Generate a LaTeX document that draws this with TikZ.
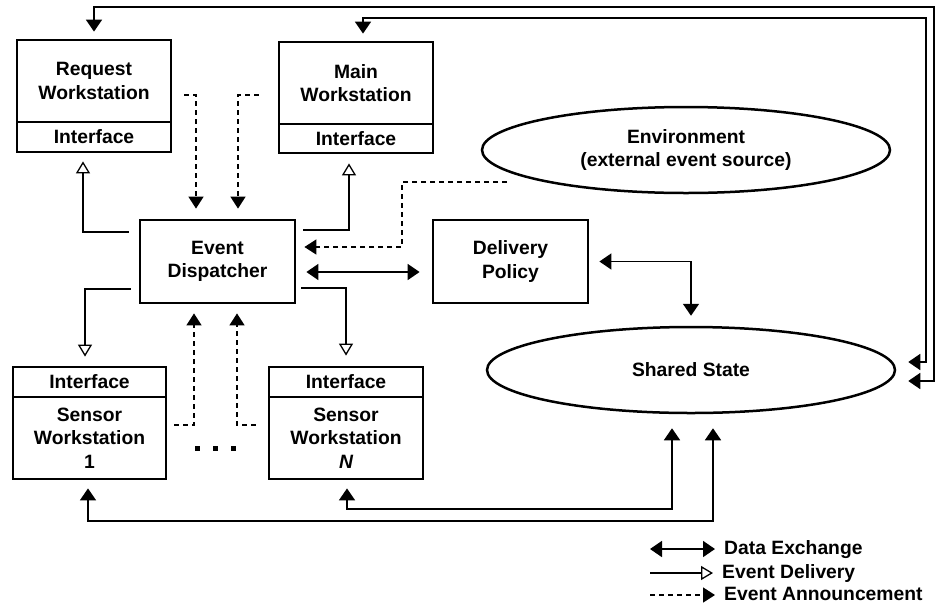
\documentclass[tikz,border=0pt]{standalone}
\usepackage{fontspec}
\setmainfont{Liberation Sans}
\usetikzlibrary{arrows.meta,shapes.geometric}
\begin{document}
\begin{tikzpicture}[x=1pt,y=-1pt,
  font=\fontsize{19.3}{23.5}\selectfont\bfseries,
  box/.style={draw,line width=2.8pt,inner sep=0pt,align=center,minimum width=154pt},
  oval/.style={draw,ellipse,line width=2.5pt,inner sep=0pt,align=center,
    minimum width=408pt,minimum height=86pt},
  legend/.style={inner sep=0pt,anchor=west,text height=14pt,text depth=4pt},
  dx/.style={line width=1.7pt,
    {Triangle[length=12pt,width=16pt]}-{Triangle[length=12pt,width=16pt]}},
  ev/.style={line width=1.7pt,
    -{Triangle[open,length=12pt,width=14pt,line width=1.3pt,fill=white]}},
  an/.style={line width=1.5pt,dash pattern=on 5pt off 4pt,
    -{Triangle[length=12pt,width=15pt]}}]
\useasboundingbox (0,0) rectangle (936,614);

% workstations
\node[box,minimum height=82pt] (req) at (94,81) {Request\\Workstation};
\node[box,minimum height=30pt] (reqif) at (94,137) {Interface};
\node[box,minimum height=82pt] (main) at (356,83) {Main\\Workstation};
\node[box,minimum height=29pt] (mainif) at (356,138.5) {Interface};
\node[box,minimum height=30pt,minimum width=153pt] (s1if) at (89.5,382) {Interface};
\node[box,minimum height=82pt,minimum width=153pt] (s1) at (89.5,438) {Sensor\\Workstation\\1};
\node[box,minimum height=30pt] (sNif) at (346,382) {Interface};
\node[box,minimum height=82pt] (sN) at (346,438) {Sensor\\Workstation\\{\itshape N}};

% dispatcher, policy, environment, state
\node[box,minimum height=83pt,minimum width=155pt] (ed) at (217.5,261.5) {Event\\Dispatcher};
\node[box,minimum height=83pt,minimum width=155pt] (dp) at (510.5,261.5) {Delivery\\Policy};
\node[oval] (env) at (686,150) {Environment\\(external event source)};
\node[oval] (ss) at (691,370) {Shared State};

% ellipsis between the sensor workstations
\foreach \px in {197,215,233}
  \fill (\px,448) +(-2.5,-2.5) rectangle +(2.5,2.5);

% data exchange
\draw[dx] ([yshift=7pt]req.north) |- (934,7) |- ([xshift=12pt,yshift=-11pt]ss.east);
\draw[dx] ([xshift=7pt,yshift=7pt]main.north) |- (926,18) |- ([xshift=12pt,yshift=8pt]ss.east);
\draw[dx] ([xshift=10pt,yshift=-10.5pt]ed.east) -- ([xshift=-12pt,yshift=-10.5pt]dp.west);
\draw[dx] ([xshift=10pt]dp.east) -| ([yshift=10pt]ss.north);
\draw[dx] ([xshift=22pt,yshift=-14pt]ss.south) |- (88,521) -- ([xshift=-1.5pt,yshift=-8pt]s1.south);
\draw[dx] ([xshift=-19pt,yshift=-14pt]ss.south) |- (347,509) -- ([xshift=1pt,yshift=-8pt]sN.south);

% event delivery
\draw[ev] ([xshift=-10pt,yshift=29.5pt]ed.west) -| ([xshift=-11pt,yshift=-8pt]reqif.south);
\draw[ev] ([xshift=7pt,yshift=31.5pt]ed.east) -| ([xshift=-7pt,yshift=-9pt]mainif.south);
\draw[ev] ([xshift=-8pt,yshift=-27.5pt]ed.west) -| ([xshift=-4.5pt,yshift=9pt]s1if.north);
\draw[ev] ([xshift=5pt,yshift=-26.5pt]ed.east) -| ([yshift=10pt]sNif.north);

% event announcement
\draw[an] ([xshift=12pt,yshift=-14pt]req.east) -| ([xshift=-21.5pt,yshift=10pt]ed.north);
\draw[an] ([xshift=-19pt,yshift=-12pt]main.west) -| ([xshift=20.5pt,yshift=10pt]ed.north);
\draw[an] ([xshift=7pt,yshift=13pt]s1.east) -| ([xshift=-23.5pt,yshift=-9pt]ed.south);
\draw[an] ([xshift=-12pt,yshift=13pt]sN.west) -| ([xshift=19.5pt,yshift=-9pt]ed.south);
\draw[an] ([xshift=-179pt,yshift=-32pt]env.center) -| (402,247) -- ([xshift=8pt,yshift=14.5pt]ed.east);

% legend
\node[legend] (l1) at (724,549) {Data Exchange};
\node[legend] (l2) at (722,573) {Event Delivery};
\node[legend] (l3) at (724,595) {Event Announcement};
\coordinate (l1s) at (650,549);
\coordinate (l2s) at (650,573);
\coordinate (l3s) at (650,595);
\draw[dx] (l1s) -- ([xshift=-9pt]l1.west);
\draw[ev] (l2s) -- ([xshift=-9pt]l2.west);
\draw[an] (l3s) -- ([xshift=-9pt]l3.west);
\end{tikzpicture}
\end{document}
